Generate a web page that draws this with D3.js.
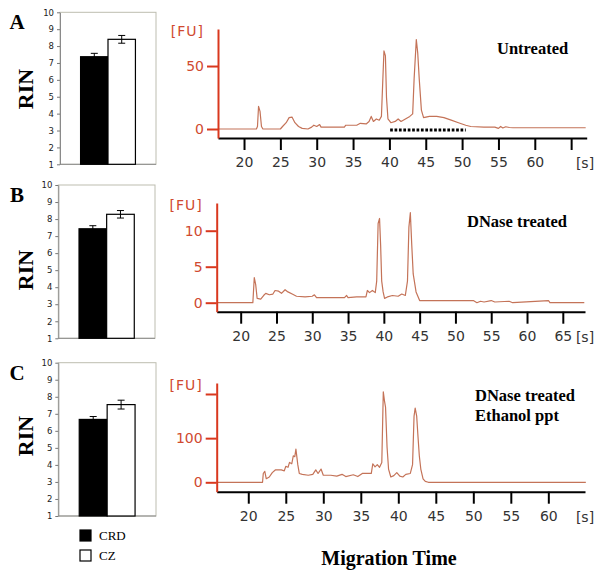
<!DOCTYPE html>
<html>
<head>
<meta charset="utf-8">
<script src="https://cdn.jsdelivr.net/npm/d3@7"></script>
<style>
  body { margin: 0; background: #fff; }
  svg { display: block; }
</style>
</head>
<body>
<svg id="canvas" width="600" height="574"></svg>
<script>
// ---------------------------------------------------------------- //
// Data

var rinGroups = ['CRD', 'CZ'];
var rinTicks = [1, 2, 3, 4, 5, 6, 7, 8, 9, 10];
var rinA = [7.37, 8.40], rinErrA = [0.20, 0.23];
var rinB = [7.43, 8.28], rinErrB = [0.18, 0.22];
var rinC = [6.67, 7.54], rinErrC = [0.17, 0.26];

var titleA = ['Untreated'];
var titleB = ['DNase treated'];
var titleC = ['DNase treated', 'Ethanol ppt'];

var timeTicksA = [20, 25, 30, 35, 40, 45, 50, 55, 60, 65];
var timeLabelsA = ['20', '25', '30', '35', '40', '45', '50', '55', '60', ''];
var timeTicksB = [20, 25, 30, 35, 40, 45, 50, 55, 60, 65];
var timeLabelsB = ['20', '25', '30', '35', '40', '45', '50', '55', '60', '65'];
var timeTicksC = [20, 25, 30, 35, 40, 45, 50, 55, 60];
var timeLabelsC = ['20', '25', '30', '35', '40', '45', '50', '55', '60'];

var fuTicksA = [0, 50], fuLabelsA = ['0', '50'];
var fuTicksB = [0, 5, 10], fuLabelsB = ['0', '5', '10'];
var fuTicksC = [0, 100, 200], fuLabelsC = ['0', '100', ''];

// marker under the untreated trace, seconds
var markerA = [40.1, 50.5];

// [time (s), fluorescence (FU)]
var traceA = [[16.5,0],[21.7,0],[21.85,2],[22.0,18],[22.2,14],[22.4,2],[22.6,0],[25,0],[25.3,2],[25.8,5],[26.2,9],
  [26.6,9.5],[27,5],[27.5,2],[28,0.5],[28.8,0],[29.3,1.5],[29.6,3],[30,2],[30.4,3.5],[30.6,1.5],[32,1.5],[33.8,1.5],
  [34,3],[35.5,3],[36,4.5],[36.8,4],[37.2,6],[37.5,10],[37.8,6],[38.2,8],[38.6,7],[38.9,10],[39.1,40],[39.25,62],
  [39.45,58],[39.6,25],[39.8,8],[40.2,5],[40.8,6],[41.2,8],[41.6,6],[42.2,8],[42.8,10],[43.2,12],[43.4,40],[43.7,71],
  [43.9,60],[44.1,40],[44.4,15],[44.7,9],[45.5,10],[46.5,10],[47.5,9],[48.5,7],[49.5,5],[50.5,3],[51.2,2],[53,1.5],
  [54.5,1.5],[55,0.5],[55.3,2],[55.6,0.8],[56,1.8],[56.5,1.2],[57,1],[67,1]];

var traceB = [[16.7,0],[21.7,0],[21.9,3.5],[22.1,2.5],[22.3,0.6],[22.8,0.5],[23.2,1],[23.5,1.3],[24,1.1],[24.5,1.2],
  [24.8,1.7],[25.3,1.6],[25.7,1.3],[26.2,1.8],[26.6,1.5],[27.2,1.2],[27.8,0.9],[29,0.8],[30,0.9],[30.3,1.1],[30.6,0.7],
  [34.5,0.7],[34.8,1],[35,0.7],[36.2,0.8],[37.5,0.8],[37.7,1.7],[38,1.4],[38.4,1.7],[38.8,1.4],[39,3],[39.2,11],
  [39.4,11.7],[39.55,8],[39.7,3],[39.9,1.5],[40.1,0.6],[40.5,0.8],[41.2,1],[42,0.9],[42.5,1.2],[43,1],[43.3,3],
  [43.5,10.5],[43.7,12.5],[43.9,8],[44.1,4],[44.5,1.5],[45,0.3],[52.5,0.3],[53,0],[53.5,0.2],[54,0.1],[55,0.3],
  [55.5,0.1],[57.5,0.2],[58,0],[63,0.3],[63.2,0],[68,0]];

var traceC = [[15.8,0],[21.9,0],[22,20],[22.2,25],[22.4,8],[22.8,12],[23.2,22],[23.6,28],[24.4,28],[24.8,26],[25,36],
  [25.3,34],[25.5,45],[25.8,42],[26,60],[26.2,58],[26.35,75],[26.6,40],[26.8,20],[27.2,18],[28,16],[28.6,18],[29,28],
  [29.3,20],[29.7,30],[30,16],[31,16],[31.8,14],[32.5,18],[33,13],[34,17],[34.6,13],[35.2,20],[36.4,20],[36.6,42],
  [36.9,35],[37.2,40],[37.5,34],[37.8,45],[38.0,205],[38.15,185],[38.3,170],[38.5,80],[38.7,30],[39,12],[39.4,15],
  [39.8,22],[40.2,14],[40.6,12],[41,18],[41.6,20],[41.9,40],[42.1,150],[42.25,168],[42.45,150],[42.6,110],[42.8,60],
  [43,30],[43.3,8],[43.6,2],[44,0],[65,0]];

// ---------------------------------------------------------------- //
// Setup

// small stand-ins for d3-selection-multi
d3.selection.prototype.attrs = function(o){ for (var k in o) this.attr(k, o[k]); return this; };
d3.selection.prototype.styles = function(o){ for (var k in o) this.style(k, o[k]); return this; };

var svg = d3.select('#canvas');
var serif = '"Liberation Serif", "Times New Roman", serif';
var sans = '"DejaVu Sans", Verdana, sans-serif';
var axisRed = '#d9381e', labelRed = '#d04a30', traceColor = '#c47358';

// ---------------------------------------------------------------- //
// RIN bar panels

function barPanel(letter, vals, errs, box, rinY){
  var y = d3.scaleLinear().domain([1, 10]).range([box.b, box.t]);
  var x = d3.scaleBand().domain(rinGroups).range([box.l, box.r]).paddingInner(0).paddingOuter(0.75);

  svg.append('rect').attrs({ x: box.l, y: box.t, width: box.r - box.l, height: box.b - box.t })
    .styles({ fill: 'none', stroke: '#bdbdb0', 'stroke-width': 1 });

  var ax = svg.append('g').attr('transform', 'translate(' + box.l + ',0)')
    .call(d3.axisLeft(y).tickValues(rinTicks).tickSize(3).tickSizeOuter(0).tickPadding(3));
  ax.select('.domain').attr('stroke', '#8a8a8a');
  ax.selectAll('.tick line').attr('stroke', '#777');
  ax.selectAll('.tick text').styles({ 'font-family': sans, 'font-size': '8.5px', fill: '#222' });

  svg.append('line').attrs({ x1: box.l, x2: box.r, y1: box.b, y2: box.b }).styles({ stroke: '#8a8a8a' });

  rinGroups.forEach(function(g, i){
    svg.append('rect')
      .attrs({ x: x(g), y: y(vals[i]), width: x.bandwidth(), height: y(1) - y(vals[i]) })
      .styles({ fill: i === 0 ? '#000' : '#fff', stroke: '#000', 'stroke-width': 1.2 });
    var cx = x(g) + x.bandwidth() / 2, lo = y(vals[i] - errs[i]), hi = y(vals[i] + errs[i]);
    var e = svg.append('g').styles({ stroke: '#000', 'stroke-width': 1 });
    e.append('line').attrs({ x1: cx, x2: cx, y1: lo, y2: hi });
    e.append('line').attrs({ x1: cx - 3.5, x2: cx + 3.5, y1: lo, y2: lo });
    e.append('line').attrs({ x1: cx - 3.5, x2: cx + 3.5, y1: hi, y2: hi });
  });

  svg.append('text').attrs({ x: 17, y: box.t + 17, 'text-anchor': 'middle' })
    .styles({ 'font-family': serif, 'font-weight': 'bold', 'font-size': '21px' }).text(letter);

  svg.append('text').attrs({ transform: 'translate(33,' + rinY + ') rotate(-90)', 'text-anchor': 'middle' })
    .styles({ 'font-family': serif, 'font-weight': 'bold', 'font-size': '22px' }).text('RIN');
}

barPanel('A', rinA, rinErrA, { l: 60, r: 156, t: 12.3, b: 164.3 }, 89);
barPanel('B', rinB, rinErrB, { l: 58.3, r: 155, t: 185, b: 338.3 }, 270);
barPanel('C', rinC, rinErrC, { l: 58.3, r: 156, t: 362.7, b: 516 }, 436);

// legend
rinGroups.forEach(function(g, i){
  var ly = 530 + i * 20;
  svg.append('rect').attrs({ x: 80, y: ly, width: 11, height: 11 })
    .styles({ fill: i === 0 ? '#000' : '#fff', stroke: '#000', 'stroke-width': 1.2 });
  svg.append('text').attrs({ x: 99, y: ly + 10 })
    .styles({ 'font-family': serif, 'font-size': '13px' }).text(g);
});

// ---------------------------------------------------------------- //
// Electropherograms

function tracePanel(cfg){
  var x = d3.scaleLinear().domain(cfg.tDomain).range([cfg.left, cfg.right]);
  var y = d3.scaleLinear().domain(cfg.fuDomain).range([cfg.axisY, cfg.top]);

  var trace = d3.line().x(function(d){ return x(d[0]); }).y(function(d){ return y(d[1]); });
  svg.append('path').datum(cfg.data).attr('d', trace)
    .styles({ fill: 'none', stroke: traceColor, 'stroke-width': 1.2, 'stroke-linejoin': 'round' });

  var xa = svg.append('g').attr('transform', 'translate(0,' + cfg.axisY + ')')
    .call(d3.axisBottom(x).tickValues(cfg.tTicks).tickSize(12).tickSizeOuter(0).tickPadding(7)
      .tickFormat(function(d, i){ return cfg.tLabels[i]; }));
  xa.select('.domain').styles({ stroke: '#000', 'stroke-width': 2 });
  xa.selectAll('.tick line').styles({ stroke: '#000', 'stroke-width': 2 });
  xa.selectAll('.tick text').styles({ 'font-family': sans, 'font-size': '14px', fill: '#333' });

  var ya = svg.append('g').attr('transform', 'translate(' + cfg.left + ',0)')
    .call(d3.axisLeft(y).tickValues(cfg.fuTicks).tickSize(11).tickSizeOuter(0).tickPadding(3)
      .tickFormat(function(d, i){ return cfg.fuLabels[i]; }));
  ya.select('.domain').styles({ stroke: axisRed, 'stroke-width': 2 });
  ya.selectAll('.tick line').styles({ stroke: axisRed, 'stroke-width': 2 });
  ya.selectAll('.tick text').styles({ 'font-family': sans, 'font-size': '14px', fill: labelRed });

  svg.append('text').attrs({ x: cfg.left - 14, y: cfg.top + 7, 'text-anchor': 'end' })
    .styles({ 'font-family': sans, 'font-size': '14px', fill: labelRed, 'letter-spacing': '1px' }).text('[FU]');
  svg.append('text').attrs({ x: 585, y: cfg.axisY + 30, 'text-anchor': 'middle' })
    .styles({ 'font-family': sans, 'font-size': '14px', fill: '#333' }).text('[s]');

  cfg.title.forEach(function(t, i){
    svg.append('text').attrs({ x: cfg.titleX, y: cfg.titleY + i * 20 })
      .styles({ 'font-family': serif, 'font-weight': 'bold', 'font-size': '16.5px' }).text(t);
  });

  if (cfg.marker){
    svg.append('line').attrs({ x1: x(cfg.marker[0]), x2: x(cfg.marker[1]), y1: y(0) + 1, y2: y(0) + 1 })
      .styles({ stroke: '#000', 'stroke-width': 3, 'stroke-dasharray': '2.7,1.7' });
  }
}

tracePanel({ data: traceA, left: 218, right: 586.7, top: 29, axisY: 138,
  tDomain: [16.42, 67.14], fuDomain: [-7.14, 79.4],
  tTicks: timeTicksA, tLabels: timeLabelsA, fuTicks: fuTicksA, fuLabels: fuLabelsA,
  title: titleA, titleX: 497, titleY: 54, marker: markerA });

tracePanel({ data: traceB, left: 216.7, right: 585, top: 203, axisY: 311.7,
  tDomain: [16.65, 68.1], fuDomain: [-1.25, 13.85],
  tTicks: timeTicksB, tLabels: timeLabelsB, fuTicks: fuTicksB, fuLabels: fuLabelsB,
  title: titleB, titleX: 467, titleY: 227 });

tracePanel({ data: traceC, left: 216.7, right: 585, top: 383, axisY: 491.7,
  tDomain: [15.79, 64.89], fuDomain: [-21.3, 224.9],
  tTicks: timeTicksC, tLabels: timeLabelsC, fuTicks: fuTicksC, fuLabels: fuLabelsC,
  title: titleC, titleX: 475, titleY: 401 });

svg.append('text').attrs({ x: 389, y: 565, 'text-anchor': 'middle' })
  .styles({ 'font-family': serif, 'font-weight': 'bold', 'font-size': '20px' }).text('Migration Time');
</script>
</body>
</html>
